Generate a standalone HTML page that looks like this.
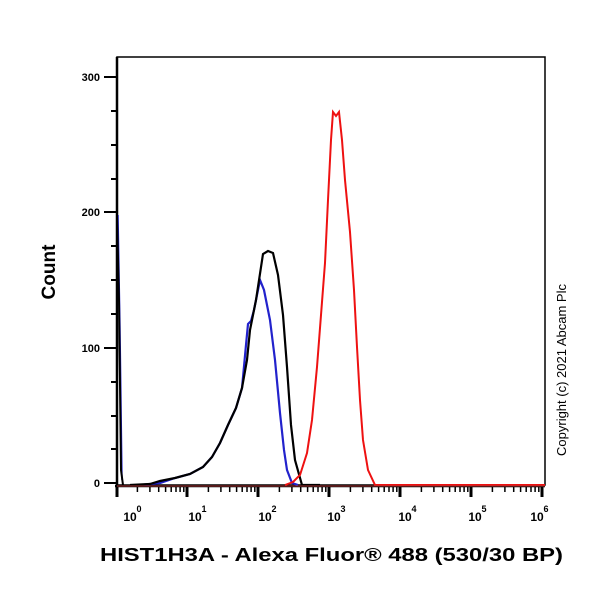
<!DOCTYPE html>
<html><head><style>body{margin:0;background:#fff}</style></head><body>
<svg width="600" height="600" xmlns="http://www.w3.org/2000/svg" font-family="Liberation Sans, Arial, sans-serif">
<rect width="600" height="600" fill="#fff"/>
<rect x="117" y="57" width="428" height="428" fill="none" stroke="#000" stroke-width="1.5"/>
<line x1="117" y1="57" x2="117" y2="487" stroke="#000" stroke-width="2.5"/>
<line x1="115" y1="486" x2="545" y2="486" stroke="#000" stroke-width="2.5"/>
<g stroke="#000" stroke-width="2">
<line x1="104" y1="77" x2="117" y2="77"/><line x1="104" y1="212" x2="117" y2="212"/><line x1="104" y1="348" x2="117" y2="348"/><line x1="104" y1="483" x2="117" y2="483"/>
<line x1="111" y1="111" x2="117" y2="111"/><line x1="111" y1="145" x2="117" y2="145"/><line x1="111" y1="179" x2="117" y2="179"/><line x1="111" y1="246" x2="117" y2="246"/><line x1="111" y1="280" x2="117" y2="280"/><line x1="111" y1="314" x2="117" y2="314"/><line x1="111" y1="382" x2="117" y2="382"/><line x1="111" y1="416" x2="117" y2="416"/><line x1="111" y1="449" x2="117" y2="449"/>
</g>
<g font-size="11" font-weight="bold" text-anchor="end">
<text x="100" y="81">300</text><text x="100" y="216">200</text><text x="100" y="352">100</text><text x="100" y="487">0</text>
</g>
<defs>
<g id="dec" stroke="#000" stroke-width="1.5">
<line x1="21.4" y1="486" x2="21.4" y2="492"/><line x1="33.9" y1="486" x2="33.9" y2="492"/><line x1="42.7" y1="486" x2="42.7" y2="492"/><line x1="49.6" y1="486" x2="49.6" y2="492"/><line x1="55.2" y1="486" x2="55.2" y2="492"/><line x1="60" y1="486" x2="60" y2="492"/><line x1="64.1" y1="486" x2="64.1" y2="492"/><line x1="67.8" y1="486" x2="67.8" y2="492"/>
<line x1="71" y1="486" x2="71" y2="497" stroke-width="3"/>
</g>
</defs>
<line x1="117" y1="486" x2="117" y2="497" stroke="#000" stroke-width="3"/>
<use href="#dec" x="116"/><use href="#dec" x="187"/><use href="#dec" x="258"/><use href="#dec" x="329"/><use href="#dec" x="400"/><use href="#dec" x="471"/>
<g font-size="12" font-weight="bold" text-anchor="middle">
<text x="130" y="521">10</text><text x="139" y="512" font-size="9">0</text>
<text x="195" y="521">10</text><text x="204" y="512" font-size="9">1</text>
<text x="265" y="521">10</text><text x="274" y="512" font-size="9">2</text>
<text x="334" y="521">10</text><text x="343" y="512" font-size="9">3</text>
<text x="405" y="521">10</text><text x="414" y="512" font-size="9">4</text>
<text x="475" y="521">10</text><text x="484" y="512" font-size="9">5</text>
<text x="537" y="521">10</text><text x="546" y="512" font-size="9">6</text>
</g>
<path d="M118,215 L120,330 L122,480" fill="none" stroke="#22c" stroke-width="1.5"/>
<path d="M117,215 L119,300 L121,470 L123,485" fill="none" stroke="#000" stroke-width="2"/>
<path d="M140,485 L160,483 L175,478 L190,474 L203,467 L212,457 L220,443 L228,425 L236,408 L242,388 L246,345 L248,324 L251,321 L254,310 L260,280 L264,290 L270,320 L275,360 L280,413 L284,450 L287,470 L292,483 L298,485" fill="none" stroke="#22c" stroke-width="2.2"/>
<path d="M130,485 L150,484 L160,481 L175,478 L190,474 L203,467 L212,457 L220,443 L228,425 L236,408 L242,388 L247,360 L250,330 L256,300 L263,254 L268,251 L273,253 L278,275 L283,315 L287,367 L291,425 L295,460 L302,485 L320,485" fill="none" stroke="#000" stroke-width="2.2"/>
<path d="M285,485 L293,482 L300,475 L307,453 L312,420 L317,367 L321,315 L325,263 L328,200 L331,140 L333,112 L336,116 L339,112 L342,140 L345,180 L350,232 L354,290 L357,347 L360,400 L363,440 L368,470 L375,485 L545,485" fill="none" stroke="#e11" stroke-width="2"/>
<line x1="117" y1="486" x2="545" y2="486" stroke="#a33" stroke-width="1"/>
<text transform="translate(55,272) rotate(-90)" font-size="19" font-weight="bold" text-anchor="middle">Count</text>
<text x="100" y="561" font-size="18" font-weight="bold" textLength="463" lengthAdjust="spacingAndGlyphs">HIST1H3A - Alexa Fluor® 488 (530/30 BP)</text>
<text transform="translate(566,370) rotate(-90)" font-size="13" text-anchor="middle">Copyright (c) 2021 Abcam Plc</text>
</svg>
</body></html>
